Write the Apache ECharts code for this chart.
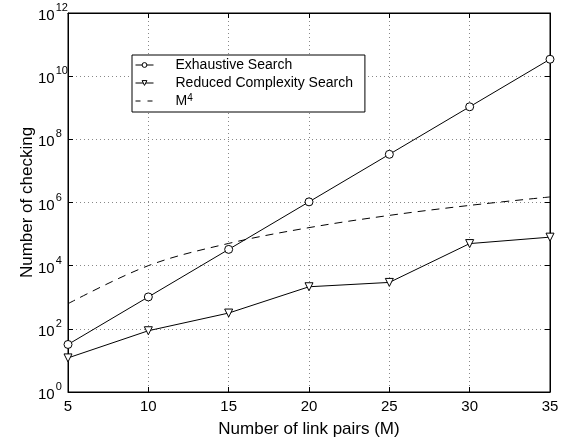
<!DOCTYPE html>
<html>
<head>
<meta charset="utf-8">
<script src="https://cdn.jsdelivr.net/npm/echarts@6/dist/echarts.min.js"></script>
<style>
  html, body { margin: 0; padding: 0; background: #fff; }
  #chart { width: 562px; height: 440px; }
</style>
</head>
<body>
<div id="chart"></div>
<script>
// Number of link pairs M
const linkPairs = [5, 10, 15, 20, 25, 30, 35];
// Number of checkings for each search method
const exhaustiveSearch = [32, 1024, 32768, 1048576, 33554432, 1073741824, 34359738368];
const reducedSearch = [12, 87, 316, 2150, 2950, 50000, 80000];
const mFourth = [625, 10000, 50625, 160000, 390625, 810000, 1500625];

const FONT = '"Liberation Sans", Arial, Helvetica, sans-serif';

function pairs(ys) { return linkPairs.map((x, i) => [x, ys[i]]); }

function powerLabel(v) {
  const e = Math.round(Math.log10(v));
  return '{b|10}{s|' + e + '}';
}

const tickRich = {
  b: { fontSize: 15, fontFamily: FONT, color: '#000', verticalAlign: 'bottom', padding: [6, 0, 0, 0] },
  s: { fontSize: 11, fontFamily: FONT, color: '#000', verticalAlign: 'top', padding: [0, 0, 6, 1] }
};

const chart = echarts.init(document.getElementById('chart'), null, { renderer: 'canvas' });

const hollow = { color: '#fff', borderColor: '#000', borderWidth: 1 };

chart.setOption({
  animation: false,
  backgroundColor: '#fff',
  grid: {
    left: 68, right: 12, top: 13, bottom: 48,
    outerBoundsMode: 'none',
    show: true, borderColor: '#000', borderWidth: 1, backgroundColor: 'transparent'
  },
  legend: {
    orient: 'vertical',
    left: 132,
    top: 55,
    width: 235,
    padding: [2, 12, 3, 3],
    itemGap: 2,
    itemWidth: 18,
    itemHeight: 6,
    backgroundColor: '#fff',
    borderColor: '#000',
    borderWidth: 1,
    lineStyle: { width: 1 },
    itemStyle: { borderWidth: 1 },
    textStyle: {
      fontFamily: FONT, fontSize: 14, color: '#000', lineHeight: 16,
      padding: [0, 0, 0, 17],
      rich: {
        n: { fontFamily: FONT, fontSize: 14, color: '#000', lineHeight: 16 },
        p: { fontFamily: FONT, fontSize: 10, color: '#000', verticalAlign: 'top', lineHeight: 10, padding: [0, 0, 6, 0] }
      }
    },
    formatter: function (name) {
      if (name === 'M4') return '{n|M}{p|4}';
      return name;
    },
    data: [
      'Exhaustive Search',
      'Reduced Complexity Search',
      { name: 'M4', itemStyle: { opacity: 0 }, lineStyle: { type: [5, 7] } }
    ]
  },
  xAxis: [{
    type: 'value',
    min: 5, max: 35, interval: 5,
    name: 'Number of link pairs (M)',
    nameLocation: 'middle',
    nameGap: 29,
    nameMoveOverlap: false,
    nameTextStyle: { fontFamily: FONT, fontSize: 17, color: '#000' },
    axisLine: { lineStyle: { color: '#000' } },
    axisTick: { inside: true, length: 5, lineStyle: { color: '#000' } },
    axisLabel: { fontFamily: FONT, fontSize: 15, color: '#000', margin: 7 },
    splitLine: { show: true, lineStyle: { color: '#888', type: [1, 3] } }
  }, {
    type: 'value',
    position: 'top',
    min: 5, max: 35, interval: 5,
    axisLine: { lineStyle: { color: '#000' } },
    axisTick: { inside: true, length: 5, lineStyle: { color: '#000' } },
    axisLabel: { show: false },
    splitLine: { show: false }
  }],
  yAxis: [{
    type: 'log',
    logBase: 10,
    min: 1, max: 1e12,
    interval: 2,
    name: 'Number of checking',
    nameLocation: 'middle',
    nameGap: 32,
    nameMoveOverlap: false,
    nameTextStyle: { fontFamily: FONT, fontSize: 17, color: '#000' },
    axisLine: { lineStyle: { color: '#000' } },
    axisTick: { inside: true, length: 5, lineStyle: { color: '#000' } },
    minorTick: { show: false },
    axisLabel: { formatter: powerLabel, rich: tickRich, margin: 30, align: 'left' },
    splitLine: { show: true, lineStyle: { color: '#888', type: [1, 3] } }
  }, {
    type: 'log',
    logBase: 10,
    position: 'right',
    min: 1, max: 1e12,
    interval: 2,
    axisLine: { lineStyle: { color: '#000' } },
    axisTick: { inside: true, length: 5, lineStyle: { color: '#000' } },
    axisLabel: { show: false },
    splitLine: { show: false }
  }],
  series: [{
    name: 'Exhaustive Search',
    type: 'line',
    data: pairs(exhaustiveSearch),
    symbol: 'circle',
    symbolSize: 8,
    color: '#000',
    itemStyle: hollow,
    lineStyle: { color: '#000', width: 1 },
    z: 3
  }, {
    name: 'Reduced Complexity Search',
    type: 'line',
    data: pairs(reducedSearch),
    symbol: 'triangle',
    symbolRotate: 180,
    symbolSize: 8,
    color: '#000',
    itemStyle: hollow,
    lineStyle: { color: '#000', width: 1 },
    z: 3
  }, {
    name: 'M4',
    type: 'line',
    data: pairs(mFourth),
    smooth: 0.35,
    symbol: 'none',
    color: '#000',
    lineStyle: { color: '#000', width: 1, type: [8, 6] },
    z: 2
  }]
});
</script>
</body>
</html>
